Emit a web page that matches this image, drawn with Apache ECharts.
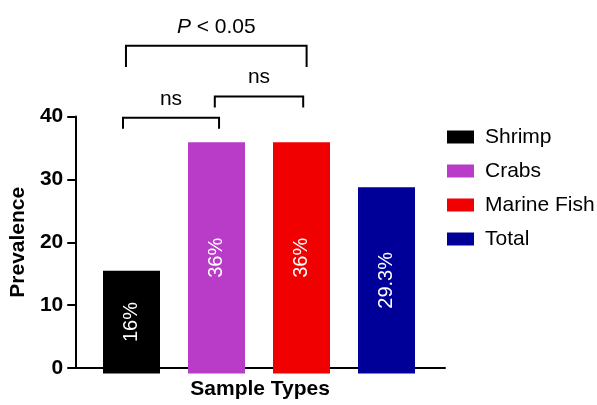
<!DOCTYPE html>
<html>
<head>
<meta charset="utf-8">
<script src="https://cdn.jsdelivr.net/npm/echarts@6/dist/echarts.min.js"></script>
<style>
html,body{margin:0;padding:0;background:#fff;}
#c{width:597px;height:405px;}
</style>
</head>
<body>
<div id="c"></div>
<script>
// ---- data ----
var categories = ['Shrimp', 'Crabs', 'Marine Fish', 'Total'];
var values = [16, 36, 36, 29];
var barLabels = ['16%', '36%', '36%', '29.3%'];
var colors = ['#000000', '#B83CC8', '#F00000', '#000099'];
var yTicks = [0, 10, 20, 30, 40];
// significance brackets: from category, to category, top level, leg end level, text
var bracketFrom = [0, 1, 0];
var bracketTo = [1, 2, 2];
var bracketTop = [39.8, 43.1, 51.0];
var bracketLeg = [38.1, 41.4, 47.7];
var bracketText = ['ns', 'ns', 'P < 0.05'];

var FONT = 'Liberation Sans, Arial, sans-serif';
var chart = echarts.init(document.getElementById('c'));

var series = categories.map(function (name, i) {
  return {
    name: name,
    type: 'bar',
    xAxisIndex: 1,
    yAxisIndex: 1,
    barWidth: 57,
    barGap: '-100%',
    itemStyle: { color: colors[i] },
    label: {
      show: true,
      position: 'inside',
      rotate: 90,
      color: '#fff',
      fontFamily: FONT,
      fontSize: 20,
      formatter: function () { return barLabels[i]; }
    },
    data: categories.map(function (c, j) { return j === i ? values[j] : '-'; })
  };
});

// bracket endpoint adjustments (fraction of band width)
var fromAdj = [-0.1, -0.02, -0.065];
var toAdj = [0.03, 0.02, 0.06];

series.push({
  type: 'custom',
  xAxisIndex: 1,
  yAxisIndex: 1,
  clip: false,
  silent: true,
  data: bracketText.map(function (t, i) { return [bracketFrom[i], bracketTop[i]]; }),
  renderItem: function (params, api) {
    var i = params.dataIndex;
    var band = api.size([1, 0])[0];
    var x1 = api.coord([bracketFrom[i], bracketTop[i]])[0] + fromAdj[i] * band;
    var x2 = api.coord([bracketTo[i], bracketTop[i]])[0] + toAdj[i] * band;
    var yT = api.coord([bracketFrom[i], bracketTop[i]])[1];
    var yL = api.coord([bracketFrom[i], bracketLeg[i]])[1];
    var txt = bracketText[i];
    var textEl;
    if (txt.indexOf('P') === 0) {
      textEl = {
        type: 'text',
        style: {
          x: (x1 + x2) / 2, y: yT - 19,
          text: '{i|P}{n|' + txt.slice(1) + '}',
          rich: {
            i: { fontStyle: 'italic', fontSize: 21, fontFamily: FONT, fill: '#000' },
            n: { fontSize: 21, fontFamily: FONT, fill: '#000' }
          },
          align: 'center', verticalAlign: 'middle'
        }
      };
    } else {
      textEl = {
        type: 'text',
        style: {
          x: (x1 + x2) / 2, y: yT - 19,
          text: txt, fontSize: 21, fontFamily: FONT, fill: '#000',
          align: 'center', verticalAlign: 'middle'
        }
      };
    }
    return {
      type: 'group',
      children: [
        {
          type: 'polyline',
          shape: { points: [[x1, yL], [x1, yT], [x2, yT], [x2, yL]] },
          style: { stroke: '#000', lineWidth: 2, fill: null }
        },
        textEl
      ]
    };
  }
});

chart.setOption({
  animation: false,
  backgroundColor: '#fff',
  grid: [
    { left: 75, top: 116.5, width: 370, height: 257 },
    { left: 89, top: 116.5, width: 340, height: 257 }
  ],
  legend: {
    orient: 'vertical',
    left: 442,
    top: 121,
    itemWidth: 27,
    itemHeight: 13,
    itemGap: 12,
    icon: 'rect',
    textStyle: { fontFamily: FONT, fontSize: 21, color: '#000', lineHeight: 22, padding: [0, 0, 0, 6] },
    data: categories
  },
  xAxis: [
    {
      gridIndex: 0, type: 'value', min: 0, max: 1,
      axisLine: { show: true, lineStyle: { color: '#000', width: 2 } },
      axisTick: { show: false }, axisLabel: { show: false }, splitLine: { show: false },
      name: 'Sample Types', nameLocation: 'middle', nameGap: 11,
      nameTextStyle: { fontFamily: FONT, fontSize: 21, fontWeight: 'bold', color: '#000' }
    },
    {
      gridIndex: 1, type: 'category', data: categories,
      axisLine: { show: false }, axisTick: { show: false }, axisLabel: { show: false }
    }
  ],
  yAxis: [
    {
      gridIndex: 0, type: 'value', min: yTicks[0], max: yTicks[yTicks.length - 1], interval: 10,
      axisLine: { show: true, lineStyle: { color: '#000', width: 2 } },
      axisTick: { show: true, length: 8, lineStyle: { color: '#000', width: 2 } },
      axisLabel: { fontFamily: FONT, fontSize: 21, fontWeight: 'bold', color: '#000', margin: 12 },
      splitLine: { show: false },
      name: 'Prevalence', nameLocation: 'middle', nameGap: 41,
      nameTextStyle: { fontFamily: FONT, fontSize: 21, fontWeight: 'bold', color: '#000' }
    },
    {
      gridIndex: 1, type: 'value', min: yTicks[0], max: yTicks[yTicks.length - 1],
      show: false, splitLine: { show: false }
    }
  ],
  series: series
});
</script>
</body>
</html>
